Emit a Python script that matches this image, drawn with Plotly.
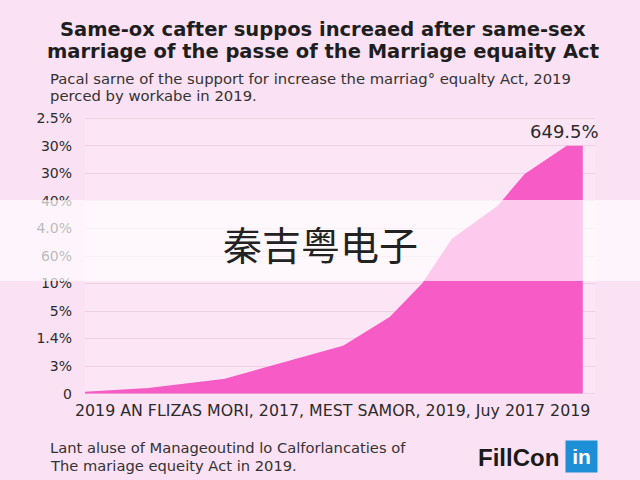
import plotly.graph_objects as go

# ---- data ----
period = [0, 12.4, 27.1, 39.6, 50.6, 59.8, 66.3, 72.0, 81.0, 86.3, 94.5, 97.6]
support = [0.04, 0.18, 0.5, 1.13, 1.71, 2.76, 4.0, 5.6, 6.8, 7.96, 8.98, 8.98]
y_tick_vals = [0, 1, 2, 3, 4, 5, 6, 7, 8, 9, 10]
y_tick_text = ["0", "3%", "1.4%", "5%", "10%", "60%", "4.0%", "40%", "30%", "30%", "2.5%"]
x_label = "2019 AN FLIZAS MORI, 2017, MEST SAMOR, 2019, Juy 2017 2019"
peak_label = "649.5%"

title_lines = ["Same-ox cafter suppos increaed after same-sex",
               "marriage of the passe of the Marriage equaity Act"]
subtitle_lines = ["Pacal sarne of the support for increase the marriag° equalty Act, 2019",
                  "perced by workabe in 2019."]
footer_lines = ["Lant aluse of Manageoutind lo Calforlancaties of",
                "The mariage equeity Act in 2019."]
brand = "FillCon"
brand_badge = "in"
watermark = "秦吉粤电子"

BODY = "DejaVu Sans, Verdana, sans-serif"
HEAD = "DejaVu Sans, Arial, sans-serif"
TXT = "#2b2b2b"

L, T, PW, PH = 85, 117, 510, 278


def px(xp):
    return (xp - L) / PW


def py(yp):
    return 1 + (T - yp) / PH


fig = go.Figure()
fig.add_trace(go.Scatter(
    x=period, y=support, mode="lines", fill="tozeroy",
    line=dict(color="#f55cc4", width=1.5), fillcolor="#f75bc6",
    hoverinfo="skip", showlegend=False))

fig.add_annotation(x=period[-2] - 0.5, y=support[-1], text=peak_label, showarrow=False,
                   yshift=15, font=dict(size=18, color=TXT, family=BODY))

fig.update_layout(
    width=640, height=480,
    paper_bgcolor="#fbe1f4", plot_bgcolor="#fce6f6",
    margin=dict(l=L, r=640 - L - PW, t=T, b=480 - T - PH),
    xaxis=dict(range=[0, 100], showgrid=False, zeroline=False, showticklabels=False,
               showline=False, fixedrange=True),
    yaxis=dict(range=[-0.05, 10.05], tickvals=y_tick_vals, ticktext=y_tick_text,
               showgrid=True, gridcolor="#edd0e4", gridwidth=1, zeroline=False,
               tickfont=dict(size=14, color=TXT, family=BODY), ticklabelstandoff=12,
               showline=False, fixedrange=True),
    showlegend=False,
)

# x-axis caption
fig.add_annotation(xref="paper", yref="paper", x=px(332), y=py(410), yanchor="middle",
                   text=x_label, showarrow=False,
                   font=dict(size=15.8, color=TXT, family=BODY))

# title
for i, line in enumerate(title_lines):
    fig.add_annotation(xref="paper", yref="paper", x=px(323), y=py(29.5 + i * 22),
                       text=line, showarrow=False, yanchor="middle",
                       font=dict(size=19.5, color="#1e1e1e", family=HEAD, weight=700))
# subtitle
for i, line in enumerate(subtitle_lines):
    fig.add_annotation(xref="paper", yref="paper", x=px(48), xanchor="left",
                       y=py(79 + i * 16), yanchor="middle",
                       text=line, showarrow=False,
                       font=dict(size=14.8, color="#333333", family=BODY))
# footer
for i, line in enumerate(footer_lines):
    fig.add_annotation(xref="paper", yref="paper", x=px(48), xanchor="left",
                       y=py(447 + i * 18), yanchor="middle",
                       text=line, showarrow=False,
                       font=dict(size=14.7, color="#333333", family=BODY))
# brand
fig.add_annotation(xref="paper", yref="paper", x=px(561), xanchor="right",
                   y=py(457), yanchor="middle",
                   text="<b>" + brand + "</b>", showarrow=False,
                   font=dict(size=24, color="#1a1a1a", family="Liberation Sans, Arial"))
fig.add_annotation(xref="paper", yref="paper", x=px(565), xanchor="left",
                   y=py(456.5), yanchor="middle",
                   text="<b>" + brand_badge + "</b>", showarrow=False,
                   width=27, height=27, borderpad=2, align="center", valign="middle",
                   bgcolor="#1d8fd6",
                   font=dict(size=21, color="white", family="Liberation Sans, Arial"))

# watermark band
fig.add_shape(type="rect", xref="paper", yref="paper",
              x0=px(0), x1=px(640), y0=py(281), y1=py(200),
              fillcolor="rgba(255,255,255,0.68)", line=dict(width=0), layer="above")
fig.add_annotation(xref="paper", yref="paper", x=px(320), y=py(243), yanchor="middle",
                   text=watermark, showarrow=False,
                   font=dict(size=39, color="#222222", family="Noto Sans CJK SC"))

fig.write_html("out.html", config={"displayModeBar": False},
               post_script="document.body.style.margin='0';")
